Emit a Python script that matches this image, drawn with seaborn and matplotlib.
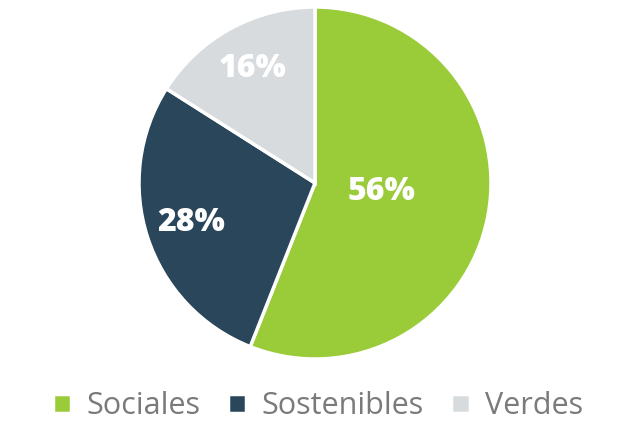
import numpy as np
import seaborn as sns
import matplotlib.pyplot as plt

# data
categories = ["Sociales", "Sostenibles", "Verdes"]
shares = [56, 28, 16]
colors = ["#9acb38", "#29465b", "#d8dbde"]

sns.set_theme(style="white")
plt.rcParams["font.family"] = ["Open Sans", "DejaVu Sans"]

fig = plt.figure(figsize=(6.18, 4.24), dpi=100)
ax = fig.add_axes([139 / 618, 65 / 424, 352 / 618, 352 / 424])

wedges, _ = ax.pie(shares, colors=sns.color_palette(colors), startangle=90,
                   counterclock=False,
                   wedgeprops=dict(edgecolor="white", linewidth=2.5))
ax.set_xlim(-1, 1)
ax.set_ylim(-1, 1)
ax.set_aspect("equal")

# percentage labels, placed along each wedge's middle angle
label_dist = [0.38, 0.74, 0.74]
for w, val, d in zip(wedges, shares, label_dist):
    ang = np.deg2rad((w.theta1 + w.theta2) / 2)
    if val == 56:
        ang = np.deg2rad(-8)
    ax.text(d * np.cos(ang), d * np.sin(ang), f"{val}%", ha="center", va="center",
            color="white", fontsize=23, fontweight="heavy")

fig.legend(wedges, categories, loc="center", bbox_to_anchor=(318 / 618, 1 - 406 / 424),
           ncol=3, frameon=False, fontsize=22, labelcolor="#7a7a7a", borderpad=0.2,
           handlelength=0.6, handleheight=0.6, handletextpad=0.5, columnspacing=0.9)

plt.savefig("out.png", dpi=100)
